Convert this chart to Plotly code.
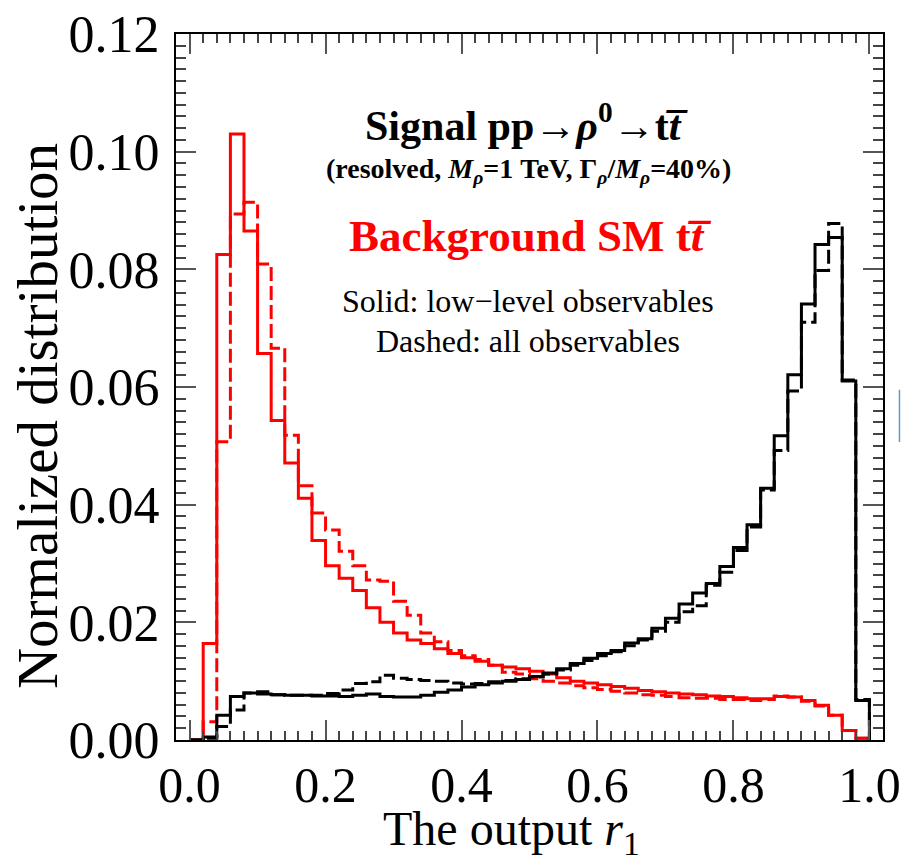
import numpy as np
import plotly.graph_objects as go

# ---- data (50 bins of width 0.02 on [0, 1]) ----
bin_lo = 0.0
bin_width = 0.02
n_bins = 50

bkg_lowlevel = [0, 0.0164, 0.0825, 0.1030, 0.0865, 0.0657, 0.0543, 0.0471, 0.0411, 0.0339,
                0.0296, 0.0275, 0.0254, 0.0225, 0.0200, 0.0182, 0.0170, 0.0164, 0.0155, 0.0147,
                0.0140, 0.0134, 0.0127, 0.0124, 0.0121, 0.0117, 0.0112, 0.0106, 0.0100, 0.0097,
                0.0094, 0.0091, 0.0088, 0.0084, 0.0082, 0.0080, 0.0078, 0.0077, 0.0075, 0.0074,
                0.0072, 0.0070, 0.0070, 0.0074, 0.0073, 0.0067, 0.0059, 0.0042, 0.0016, 0.0003]

bkg_all = [0, 0.0031, 0.0507, 0.0894, 0.0914, 0.0809, 0.0666, 0.0518, 0.0432, 0.0386,
           0.0357, 0.0321, 0.0296, 0.0272, 0.0270, 0.0236, 0.0212, 0.0182, 0.0167, 0.0152,
           0.0143, 0.0137, 0.0127, 0.0115, 0.0112, 0.0104, 0.0100, 0.0097, 0.0092, 0.0089,
           0.0086, 0.0083, 0.0080, 0.0077, 0.0076, 0.0074, 0.0072, 0.0071, 0.0071, 0.0069,
           0.0069, 0.0067, 0.0069, 0.0075, 0.0073, 0.0066, 0.0058, 0.0042, 0.0016, 0.0003]

sig_lowlevel = [0, 0.0005, 0.0042, 0.0074, 0.0080, 0.0078, 0.0077, 0.0076, 0.0076, 0.0075,
                0.0075, 0.0074, 0.0076, 0.0078, 0.0074, 0.0073, 0.0073, 0.0076, 0.0081, 0.0085,
                0.0090, 0.0094, 0.0097, 0.0100, 0.0103, 0.0108, 0.0114, 0.0121, 0.0130, 0.0139,
                0.0147, 0.0152, 0.0165, 0.0172, 0.0190, 0.0207, 0.0231, 0.0250, 0.0266, 0.0295,
                0.0327, 0.0366, 0.0428, 0.0517, 0.0621, 0.0741, 0.0842, 0.0854, 0.0610, 0.0067]

sig_all = [0, 0.0003, 0.0023, 0.0051, 0.0080, 0.0082, 0.0077, 0.0076, 0.0076, 0.0076,
           0.0079, 0.0085, 0.0096, 0.0099, 0.0110, 0.0105, 0.0103, 0.0101, 0.0100, 0.0097,
           0.0095, 0.0096, 0.0099, 0.0101, 0.0104, 0.0107, 0.0112, 0.0119, 0.0127, 0.0135,
           0.0143, 0.0150, 0.0160, 0.0170, 0.0185, 0.0200, 0.0218, 0.0228, 0.0263, 0.0285,
           0.0322, 0.0362, 0.0425, 0.0492, 0.0593, 0.0710, 0.0798, 0.0878, 0.0612, 0.0069]

x_ticks = [0.0, 0.2, 0.4, 0.6, 0.8, 1.0]
y_ticks = [0.00, 0.02, 0.04, 0.06, 0.08, 0.10, 0.12]

edges = bin_lo + bin_width * np.arange(n_bins + 1)

FONT = "Liberation Serif, Times New Roman, serif"


def step_trace(vals, color, dash):
    x = list(edges)
    y = list(vals) + [0.0]
    return go.Scatter(x=x, y=y, mode="lines", line_shape="hv",
                      line=dict(color=color, width=3, dash=dash),
                      showlegend=False, hoverinfo="skip")


fig = go.Figure()
fig.add_trace(step_trace(bkg_all, "#ff0000", "14px,5px"))
fig.add_trace(step_trace(bkg_lowlevel, "#ff0000", "solid"))
fig.add_trace(step_trace(sig_all, "#000000", "14px,5px"))
fig.add_trace(step_trace(sig_lowlevel, "#000000", "solid"))

axis_common = dict(
    showline=True, linecolor="black", linewidth=2, mirror="allticks",
    ticks="inside", ticklen=20, tickwidth=1.5, tickcolor="#555",
    showgrid=False, zeroline=False, automargin=False,
)

fig.update_xaxes(range=[-0.02, 1.02], tickvals=x_ticks,
                 ticktext=[f"{v:.1f}" for v in x_ticks],
                 tickfont=dict(family=FONT, size=50, color="black"),
                 minor=dict(dtick=0.02, tick0=0, ticks="inside", ticklen=9,
                            tickwidth=1.5, tickcolor="#444"),
                 **axis_common)
fig.update_yaxes(range=[0, 0.12], tickvals=y_ticks,
                 ticktext=[f"{v:.2f}" for v in y_ticks],
                 tickfont=dict(family=FONT, size=52, color="black"),
                 minor=dict(dtick=0.002, tick0=0, ticks="inside", ticklen=10,
                            tickwidth=1.5, tickcolor="#444"),
                 ticklabelstandoff=4,
                 **axis_common)

annos = [
    dict(text="The output <i>r</i><sub>1</sub>", x=0.475, y=-0.131, size=48, color="black", angle=0),
    dict(text="Normalized distribution", x=-0.195, y=0.459, size=57, color="black", angle=-90),
    dict(text="<b>Signal pp→<i>ρ</i><sup>0</sup>→t<i>t̅</i></b>", x=0.496, y=0.875, size=42, color="black", angle=0),
    dict(text="<b>(resolved, <i>M</i><sub><i>ρ</i></sub>=1 TeV, Γ<sub><i>ρ</i></sub>/<i>M</i><sub><i>ρ</i></sub>=40%)</b>",
         x=0.498, y=0.806, size=28, color="black", angle=0),
    dict(text="<b>Background SM t<i>t̅</i></b>", x=0.502, y=0.714, size=45, color="#ff0000", angle=0),
    dict(text="Solid: low−level observables", x=0.498, y=0.622, size=32, color="black", angle=0),
    dict(text="Dashed: all observables", x=0.498, y=0.565, size=32, color="black", angle=0),
]
for a in annos:
    fig.add_annotation(text=a["text"], x=a["x"], y=a["y"], xref="paper", yref="paper",
                       xanchor="center", yanchor="middle", showarrow=False,
                       textangle=a["angle"],
                       font=dict(family=FONT, size=a["size"], color=a["color"]))

# small blue stroke at the right edge of the picture
fig.add_shape(type="line", xref="paper", yref="paper", x0=1.0233, x1=1.0233,
              y0=0.422, y1=0.496, line=dict(color="#5b9bd5", width=1.5))

fig.update_layout(width=901, height=862,
                  margin=dict(l=176, r=18, t=34, b=122),
                  plot_bgcolor="white", paper_bgcolor="white",
                  font=dict(family=FONT))

fig.write_html("out.html")
